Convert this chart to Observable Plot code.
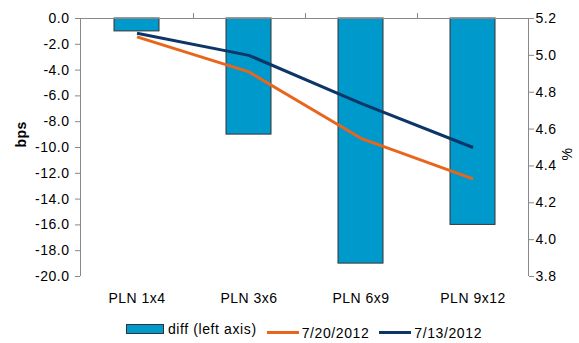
<!DOCTYPE html>
<html>
<head>
<meta charset="utf-8">
<script src="https://cdn.jsdelivr.net/npm/d3@7"></script>
<script src="https://cdn.jsdelivr.net/npm/@observablehq/plot@0.6"></script>
<style>
  body { margin: 0; background: #fff; font-family: "Liberation Sans", Arial, sans-serif; }
  #chart { width: 579px; }
  #chart svg text { letter-spacing: 0.5px; }
  #legend {
    box-sizing: border-box; width: 579px; padding-left: 29px; padding-top: 16px;
    text-align: center; font-size: 14px; line-height: 16px; color: #000; white-space: nowrap;
    letter-spacing: 0.6px;
  }
  .item { display: inline-flex; align-items: center; margin: 0 5px; }
  .sw-bar { display: inline-block; width: 36px; height: 8px; background: #0099cc; border: 1px solid #333; margin-right: 4px; }
  .sw-line { display: inline-block; width: 32px; height: 3px; margin-right: 3px; }
</style>
</head>
<body>
<div id="chart"></div>
<div id="legend"></div>
<script>
// FRA tenors and values
const tenors = ["PLN 1x4", "PLN 3x6", "PLN 6x9", "PLN 9x12"];
const diffBps = [-1.0, -9.0, -19.0, -16.0];       // change, bps (left axis)
const rates0720 = [5.10, 4.91, 4.55, 4.33];       // 7/20/2012, % (right axis)
const rates0713 = [5.12, 5.00, 4.74, 4.50];       // 7/13/2012, % (right axis)
const leftTicks = [0, -2, -4, -6, -8, -10, -12, -14, -16, -18, -20];
const rightTicks = [3.8, 4.0, 4.2, 4.4, 4.6, 4.8, 5.0, 5.2];

const colors = { bar: "#0099cc", d0720: "#e8661c", d0713: "#0c3568" };
const axisGray = "#888";

// right-axis (%) values are placed on the left (bps) scale through this map
const pctToBps = d3.scaleLinear([3.8, 5.2], [-20, 0]);

const bars = tenors.map((t, i) => ({ tenor: t, diff: diffBps[i] }));
const lines = [
  ...tenors.map((t, i) => ({ tenor: t, series: "7/20/2012", pct: rates0720[i] })),
  ...tenors.map((t, i) => ({ tenor: t, series: "7/13/2012", pct: rates0713[i] }))
];

// axis lines and category-boundary ticks along the zero line
function frameLines(index, scales, values, dim) {
  const svg = d3.create("svg:g").attr("stroke", axisGray).attr("fill", "none").attr("stroke-width", 1);
  const left = dim.marginLeft, right = dim.width - dim.marginRight;
  const top = dim.marginTop, bottom = dim.height - dim.marginBottom;
  const y0 = scales.y(0);
  svg.append("line").attr("x1", left + 0.5).attr("x2", left + 0.5).attr("y1", top).attr("y2", bottom);
  svg.append("line").attr("x1", right + 0.5).attr("x2", right + 0.5).attr("y1", top).attr("y2", bottom);
  svg.append("line").attr("x1", left).attr("x2", right).attr("y1", y0 + 0.5).attr("y2", y0 + 0.5);
  const x = scales.x;
  const half = (x.step() - x.bandwidth()) / 2;
  tenors.slice(1).forEach(t => {
    const bx = Math.round(x(t) - half) + 0.5;
    svg.append("line").attr("x1", bx).attr("x2", bx).attr("y1", y0 - 5).attr("y2", y0);
  });
  return svg.node();
}

const chart = Plot.plot({
  width: 579,
  height: 305,
  marginTop: 18,
  marginLeft: 80,
  marginRight: 51,
  marginBottom: 29,
  style: { fontFamily: "Liberation Sans, Arial, sans-serif", fontSize: "14px", color: "#000", background: "#fff" },
  x: { domain: tenors, paddingInner: 0.6, paddingOuter: 0.3, label: null },
  y: { domain: [-20, 0], label: null },
  marks: [
    Plot.barY(bars, { x: "tenor", y: "diff", fill: colors.bar, stroke: "#333", strokeWidth: 1 }),
    frameLines,
    Plot.line(lines, {
      x: "tenor", y: d => pctToBps(d.pct), z: "series",
      stroke: d => d.series === "7/20/2012" ? colors.d0720 : colors.d0713,
      strokeWidth: 3, strokeLinejoin: "round", strokeLinecap: "butt"
    }),
    Plot.axisY({ ticks: leftTicks, tickFormat: d => d.toFixed(1), tickSize: 5, tickPadding: 6, stroke: axisGray, label: null, fontSize: 14 }),
    Plot.axisY({ anchor: "right", ticks: rightTicks.map(pctToBps), tickFormat: d => pctToBps.invert(d).toFixed(1), tickSize: 5, tickPadding: 2, stroke: axisGray, label: null, fontSize: 14 }),
    Plot.axisX({ anchor: "bottom", tickSize: 0, tickPadding: 17, label: null, fontSize: 14 }),
    Plot.text(["bps"], { frameAnchor: "left", dx: -59, rotate: -90, fontWeight: "bold", fontSize: 14, text: d => d }),
    Plot.text(["%"], { frameAnchor: "right", dx: 39, rotate: -90, fontSize: 14, text: d => d })
  ]
});
document.getElementById("chart").appendChild(chart);

// legend below the chart
const legend = d3.select("#legend");
const barItem = legend.append("span").attr("class", "item");
barItem.append("span").attr("class", "sw-bar");
barItem.append("span").text("diff (left axis)");
[["7/20/2012", colors.d0720], ["7/13/2012", colors.d0713]].forEach(([name, c]) => {
  const it = legend.append("span").attr("class", "item");
  it.append("span").attr("class", "sw-line").style("background", c);
  it.append("span").text(name);
});
</script>
</body>
</html>
